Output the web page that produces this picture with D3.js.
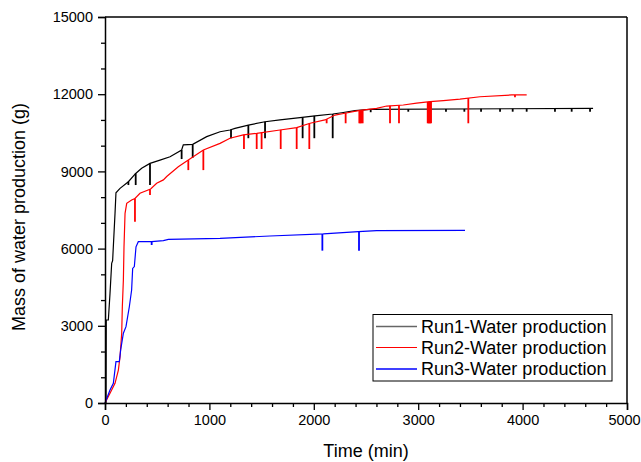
<!DOCTYPE html>
<html>
<head>
<meta charset="utf-8">
<script src="https://cdn.jsdelivr.net/npm/d3@7"></script>
<style>
  html, body { margin: 0; padding: 0; background: #fff; }
  svg { display: block; font-family: "Liberation Sans", Arial, sans-serif; }
</style>
</head>
<body>
<svg id="chart" width="641" height="462"></svg>
<script>
// ---- Data ----
const seriesNames = ["Run1-Water production", "Run2-Water production", "Run3-Water production"];
const seriesColors = ["#000000", "#ff0000", "#0000ff"];

// Run1 (black)
const run1Time = [0, 10, 12, 32, 48, 64, 73, 96, 105, 144, 224, 294, 351, 431, 527, 623, 734, 750, 840, 974, 1102, 1197, 1245, 1373, 1533, 1676, 1868, 2011, 2181, 2267, 2395, 2538, 4675];
const run1Mass = [0, 0, 3225, 3225, 4260, 5430, 5530, 7370, 8170, 8340, 8600, 8920, 9120, 9310, 9440, 9570, 9830, 10030, 10050, 10350, 10540, 10610, 10670, 10800, 10930, 11000, 11090, 11160, 11230, 11280, 11360, 11410, 11450];
const run1SpikeTime = [224, 294, 431, 734, 840, 1207, 1373, 1533, 1893, 2005, 2181, 2545, 2905, 3266, 3442, 3602, 3784, 3905, 4039, 4310, 4470, 4646];
const run1SpikeLow  = [8470, 8470, 8470, 9480, 9530, 10290, 10290, 10290, 10290, 10290, 10290, 11300, 11320, 11320, 11320, 11320, 11320, 11320, 11320, 11320, 11320, 11320];

// Run2 (red)
const run2Time = [0, 48, 96, 128, 144, 160, 166, 176, 182, 192, 208, 255, 287, 335, 437, 495, 559, 591, 702, 798, 942, 1102, 1197, 1325, 1453, 1676, 1836, 1964, 2107, 2203, 2299, 2427, 2602, 2698, 2857, 2985, 3113, 3241, 3400, 3592, 3896, 4039];
const run2Mass = [0, 376, 765, 1280, 1800, 2710, 3740, 4780, 6070, 7370, 7760, 7890, 7950, 8150, 8315, 8540, 8670, 8800, 9180, 9440, 9830, 10090, 10290, 10420, 10480, 10610, 10700, 10870, 11000, 11190, 11260, 11360, 11450, 11540, 11580, 11650, 11710, 11750, 11810, 11900, 11970, 11970];
const run2SpikeTime = [287, 431, 798, 942, 1331, 1453, 1500, 1683, 1836, 1957, 2123, 2305, 2436, 2445, 2455, 2468, 2730, 2816, 3091, 3100, 3107, 3115, 3123, 3480, 3927];
const run2SpikeLow  = [7045, 8080, 9050, 9050, 9870, 9870, 9870, 9870, 9870, 9870, 10870, 10870, 10870, 10870, 10870, 10870, 10870, 10870, 10870, 10870, 10870, 10870, 10870, 10870, 11880];

// Run3 (blue)
const run3Time = [0, 48, 80, 105, 137, 150, 176, 201, 233, 255, 265, 281, 297, 319, 447, 559, 607, 1102, 1580, 2091, 2427, 2602, 3448];
const run3Mass = [0, 505, 765, 1605, 1605, 2060, 2710, 2965, 3740, 4390, 5230, 5300, 6070, 6270, 6270, 6310, 6360, 6400, 6490, 6570, 6660, 6700, 6710];
const run3SpikeTime = [447, 2082, 2433];
const run3SpikeLow  = [6140, 5920, 5920];

// Axis tick values / labels
const xTicks = d3.range(0, 5001, 200);
const xLabelTicks = [0, 1000, 2000, 3000, 4000, 5000];
const yTicks = d3.range(0, 15001, 1000);
const yLabelTicks = [0, 3000, 6000, 9000, 12000, 15000];
const xTitle = "Time (min)";
const yTitle = "Mass of water production (g)";

// ---- Layout ----
const svg = d3.select("#chart");
const L = 105, R = 627, T = 17, B = 403;
const x = d3.scaleLinear().domain([0, 5000]).range([L, R]);
const y = d3.scaleLinear().domain([0, 15000]).range([B, T]);

const series = [
  { time: run1Time, mass: run1Mass, st: run1SpikeTime, sl: run1SpikeLow },
  { time: run2Time, mass: run2Mass, st: run2SpikeTime, sl: run2SpikeLow },
  { time: run3Time, mass: run3Mass, st: run3SpikeTime, sl: run3SpikeLow }
];

function valueAt(s, t) {
  const i = d3.bisectRight(s.time, t);
  if (i <= 0) return s.mass[0];
  if (i >= s.time.length) return s.mass[s.mass.length - 1];
  const t0 = s.time[i - 1], t1 = s.time[i];
  const f = (t - t0) / (t1 - t0);
  return s.mass[i - 1] + f * (s.mass[i] - s.mass[i - 1]);
}

const line = d3.line().x(d => x(d[0])).y(d => y(d[1]));

[0, 1, 2].forEach(k => {
  const s = series[k];
  const g = svg.append("g");
  g.append("path")
    .datum(s.time.map((t, i) => [t, s.mass[i]]))
    .attr("fill", "none")
    .attr("stroke", seriesColors[k])
    .attr("stroke-width", 1.2)
    .attr("d", line);
  g.selectAll("line.spike")
    .data(s.st.map((t, i) => [t, s.sl[i]]))
    .join("line")
    .attr("class", "spike")
    .attr("x1", d => x(d[0])).attr("x2", d => x(d[0]))
    .attr("y1", d => y(valueAt(s, d[0]))).attr("y2", d => y(d[1]))
    .attr("stroke", seriesColors[k])
    .attr("stroke-width", 1.8);
});

// ---- Axes ----
const xAxis = d3.axisBottom(x).tickValues(xTicks).tickSize(7).tickPadding(4)
  .tickFormat(d => xLabelTicks.includes(d) ? d : "");
const gx = svg.append("g").attr("transform", `translate(0,${B})`).call(xAxis);
gx.select(".domain").attr("stroke", "#000").attr("stroke-width", 1.5);
gx.selectAll(".tick line").attr("stroke", "#000").attr("stroke-width", 1.3)
  .attr("y2", d => xLabelTicks.includes(d) ? 7 : 4);
gx.selectAll(".tick text").attr("font-size", 14.5).attr("fill", "#000")
  .attr("font-family", "Liberation Sans, Arial, sans-serif").attr("y", 12)
  .attr("dx", d => d === 5000 ? -3 : 0);

const yAxis = d3.axisLeft(y).tickValues(yTicks).tickSize(7).tickPadding(5)
  .tickFormat(d => yLabelTicks.includes(d) ? d : "");
const gy = svg.append("g").attr("transform", `translate(${L},0)`).call(yAxis);
gy.select(".domain").attr("stroke", "#000").attr("stroke-width", 1.5);
gy.selectAll(".tick line").attr("stroke", "#000").attr("stroke-width", 1.3)
  .attr("x2", d => yLabelTicks.includes(d) ? -7 : -4);
gy.selectAll(".tick text").attr("font-size", 14.5).attr("fill", "#000")
  .attr("font-family", "Liberation Sans, Arial, sans-serif");

// frame top/right
svg.append("line").attr("x1", L).attr("x2", R).attr("y1", T).attr("y2", T)
  .attr("stroke", "#000").attr("stroke-width", 1.5);
svg.append("line").attr("x1", R).attr("x2", R).attr("y1", T).attr("y2", B)
  .attr("stroke", "#000").attr("stroke-width", 1.5);

// titles
svg.append("text").attr("x", (L + R) / 2).attr("y", 457)
  .attr("text-anchor", "middle").attr("font-size", 18).text(xTitle);
svg.append("text").attr("transform", `translate(25,${(T + B) / 2 + 7}) rotate(-90)`)
  .attr("text-anchor", "middle").attr("font-size", 18).text(yTitle);

// ---- Legend ----
const lg = svg.append("g");
lg.append("rect").attr("x", 373).attr("y", 314.5).attr("width", 239).attr("height", 66.5)
  .attr("fill", "#fff").attr("stroke", "#000").attr("stroke-width", 1);
const rowY = [326.5, 347.5, 369];
seriesNames.forEach((name, i) => {
  lg.append("line").attr("x1", 376).attr("x2", 417).attr("y1", rowY[i]).attr("y2", rowY[i])
    .attr("stroke", seriesColors[i]).attr("stroke-width", i === 1 ? 1 : 1.5)
    .attr("stroke-opacity", i === 0 ? 0.6 : 1);
  lg.append("text").attr("x", 421).attr("y", rowY[i]).attr("dy", "0.35em")
    .attr("font-size", 18).text(name);
});
</script>
</body>
</html>
